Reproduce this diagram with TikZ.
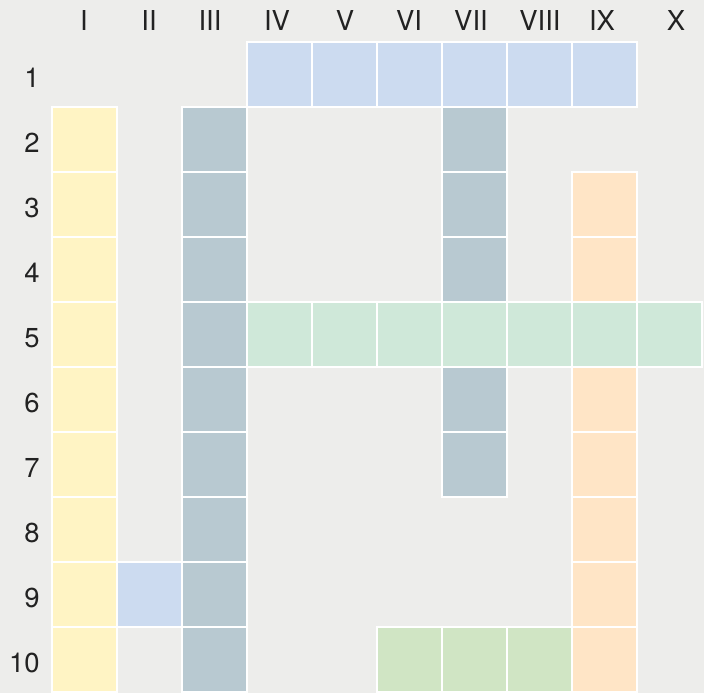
\documentclass[tikz,border=0pt]{standalone}
\usepackage{fontspec}
\setmainfont{TeX Gyre Heros}
\usepackage{tikz}
\usetikzlibrary{positioning}

\definecolor{bggray}{HTML}{EDEDEB}
\definecolor{skyblue}{HTML}{CCDBF0}
\definecolor{paleyellow}{HTML}{FFF4C4}
\definecolor{slategray}{HTML}{B8C9D1}
\definecolor{mintgreen}{HTML}{CFE8D9}
\definecolor{peach}{HTML}{FFE5C6}
\definecolor{leafgreen}{HTML}{D0E5C4}
\definecolor{labelink}{HTML}{222222}

\begin{document}
\begin{tikzpicture}[
    x=0.025cm, y=-0.025cm,
    cell/.style={rectangle, draw=white, line width=1pt, inner sep=0pt, outer sep=0pt, minimum size=1.625cm},
    axislabel/.style={text=labelink, font=\fontsize{19.5}{24}\selectfont, inner sep=0pt}
]
    % background
    \fill[bggray] (0,0) rectangle (704,693);
    \useasboundingbox (0,0) rectangle (704,693);

    % column labels
    \foreach \lab/\xx [count=\c] in {I/84,II/149,III/210,IV/277,V/345,VI/409,VII/471,VIII/540,IX/602,X/676}
        \node[axislabel, anchor=base] (col-\c) at (\xx,30) {\lab};

    % row labels
    \foreach \r in {1,...,10}
        \node[axislabel, anchor=base east] (row-\r) at (40,22+65*\r) {\r};

    % blue
    \foreach \c in {4,...,9}
        \node[cell, fill=skyblue] (r1c\c) at (19.5+65*\c,74.5) {};
    \node[cell, fill=skyblue] (r9c2) at (149.5,594.5) {};

    % yellow, column I
    \foreach \r in {2,...,10}
        \node[cell, fill=paleyellow] (r\r c1) at (84.5,9.5+65*\r) {};

    % slate, columns III and VII
    \foreach \r in {2,...,10}
        \node[cell, fill=slategray] (r\r c3) at (214.5,9.5+65*\r) {};
    \foreach \r in {2,3,4,6,7}
        \node[cell, fill=slategray] (r\r c7) at (474.5,9.5+65*\r) {};

    % mint, row 5
    \foreach \c in {4,...,10}
        \node[cell, fill=mintgreen] (r5c\c) at (19.5+65*\c,334.5) {};

    % peach, column IX
    \foreach \r in {3,4,6,7,8,9,10}
        \node[cell, fill=peach] (r\r c9) at (604.5,9.5+65*\r) {};

    % green, row 10
    \foreach \c in {6,7,8}
        \node[cell, fill=leafgreen] (r10c\c) at (19.5+65*\c,659.5) {};
\end{tikzpicture}
\end{document}
